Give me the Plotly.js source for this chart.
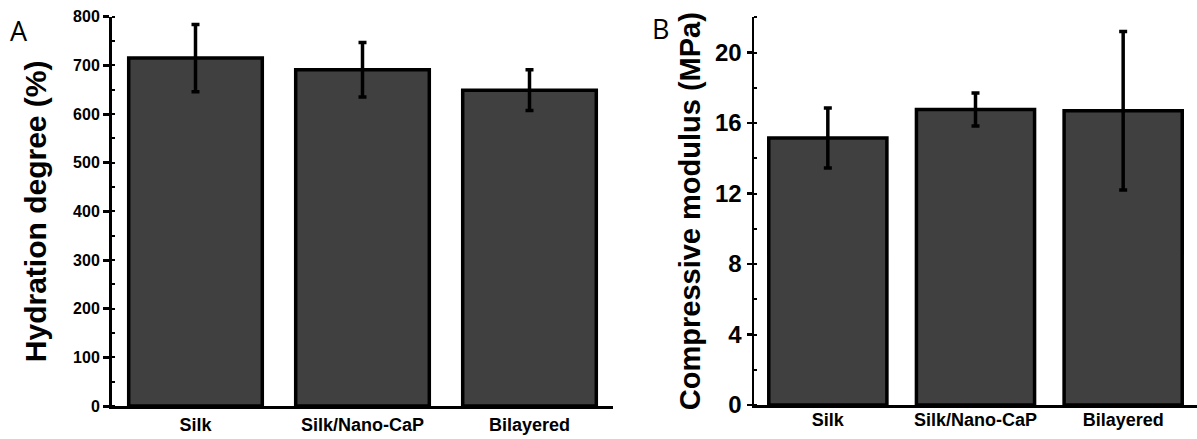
<!DOCTYPE html>
<html>
<head>
<meta charset="utf-8">
<script src="https://cdn.plot.ly/plotly-3.0.1.min.js"></script>
<style>html,body{margin:0;padding:0;background:#fff;}#chart{width:1197px;height:439px;}</style>
</head>
<body>
<div id="chart"></div>
<script>
// Data
const categories = ["Silk", "Silk/Nano-CaP", "Bilayered"];
const hydrationMean = [715, 691, 649];
const hydrationErr = [69, 56, 42];
const modulusMean = [15.15, 16.77, 16.7];
const modulusErr = [1.7, 0.94, 4.5];

const W = 1197, H = 439;
const px = v => v / W;
const py = v => (H - v) / H;

const barStyle = {color: '#404040', line: {color: '#000', width: 3.5}};
const font = 'Liberation Sans, Arial, sans-serif';

const traces = [
  {type: 'bar', x: categories, y: hydrationMean, xaxis: 'x', yaxis: 'y',
   marker: barStyle,
   error_y: {type: 'data', array: hydrationErr, visible: true, color: '#000', thickness: 3.5, width: 4},
   hoverinfo: 'none'},
  {type: 'bar', x: categories, y: modulusMean, xaxis: 'x2', yaxis: 'y2',
   marker: barStyle,
   error_y: {type: 'data', array: modulusErr, visible: true, color: '#000', thickness: 3.5, width: 4},
   hoverinfo: 'none'}
];

const layout = {
  width: W, height: H,
  margin: {l: 0, r: 0, t: 0, b: 0},
  paper_bgcolor: '#fff', plot_bgcolor: '#fff',
  showlegend: false,
  bargap: 0.2,
  xaxis: {domain: [px(112), px(613)], anchor: 'y', range: [-0.5, 2.5],
    showline: true, linecolor: '#000', linewidth: 3, ticks: '', showgrid: false, zeroline: false,
    tickfont: {family: font, size: 18, color: '#000', weight: 'bold'}, ticklabelstandoff: 0},
  yaxis: {domain: [py(406), py(16.7)], anchor: 'x', range: [0, 800], dtick: 100,
    showline: true, linecolor: '#000', linewidth: 3, ticks: 'outside', ticklen: 6, tickwidth: 3, tickcolor: '#000',
    minor: {dtick: 50, ticks: 'inside', ticklen: 3, tickwidth: 2, tickcolor: '#000'},
    showgrid: false, zeroline: false,
    tickfont: {family: font, size: 16, color: '#000', weight: 'bold'},
    title: {text: 'Hydration degree (%)', font: {family: font, size: 30, color: '#000', weight: 'bold'}, standoff: 18}},
  xaxis2: {domain: [px(754), 1], anchor: 'y2', range: [-0.5, 2.5],
    showline: true, linecolor: '#000', linewidth: 3, ticks: '', showgrid: false, zeroline: false,
    tickfont: {family: font, size: 18, color: '#000', weight: 'bold'}, ticklabelstandoff: -4},
  yaxis2: {domain: [py(405), py(17.3)], anchor: 'x2', range: [0, 22], tickvals: [0, 4, 8, 12, 16, 20],
    showline: true, linecolor: '#000', linewidth: 2.5, ticks: 'outside', ticklen: 5, tickwidth: 2.5, tickcolor: '#000',
    minor: {dtick: 2, ticks: 'inside', ticklen: 3, tickwidth: 2, tickcolor: '#000'},
    showgrid: false, zeroline: false,
    tickfont: {family: font, size: 24, color: '#000', weight: 'bold'},
    title: {text: 'Compressive modulus (MPa)', font: {family: font, size: 29, color: '#000', weight: 'bold'}, standoff: 6}},
  annotations: [
    {text: 'A', xref: 'paper', yref: 'paper', x: px(8), y: py(10), xanchor: 'left', yanchor: 'top', showarrow: false,
     font: {family: 'Open Sans, sans-serif', size: 27, color: '#000'}},
    {text: 'B', xref: 'paper', yref: 'paper', x: px(650), y: py(8), xanchor: 'left', yanchor: 'top', showarrow: false,
     font: {family: 'Open Sans, sans-serif', size: 27, color: '#000'}}
  ]
};

Plotly.newPlot('chart', traces, layout, {staticPlot: true, displayModeBar: false});
</script>
</body>
</html>
